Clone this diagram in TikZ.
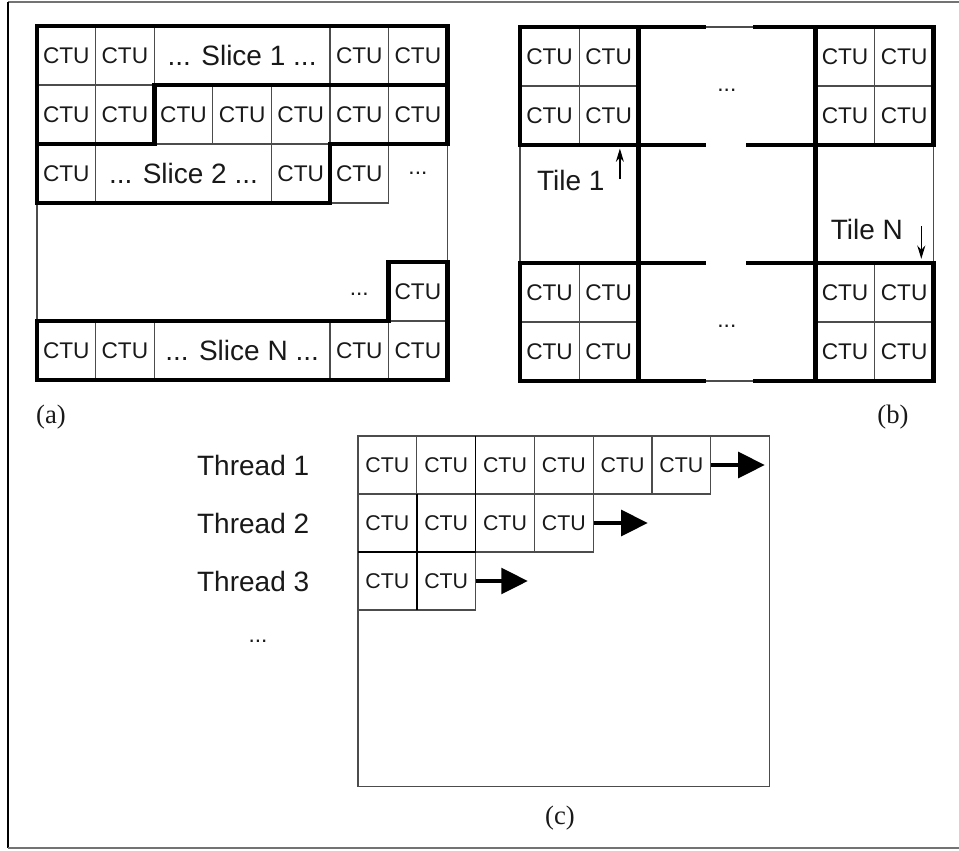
\documentclass[tikz,border=0pt]{standalone}
\usepackage{fontspec}
\setmainfont{Liberation Serif}
\setsansfont{Liberation Sans}
\usepackage{tikz}
\usetikzlibrary{positioning,arrows.meta}
\tikzstyle{ctu}=[rectangle, draw=black!70, line width=0.8pt, inner sep=0pt,
        text=black!90, font=\sffamily\fontsize{17}{17}\selectfont]
\tikzstyle{slicebox}=[ctu, font=\sffamily\fontsize{21}{21}\selectfont]
\tikzstyle{dotstext}=[inner sep=0pt, text=black!90, font=\sffamily\fontsize{17}{17}\selectfont]
\tikzstyle{bigtext}=[inner sep=0pt, text=black!90, font=\sffamily\fontsize{21}{21}\selectfont]
\tikzstyle{sublabel}=[inner sep=0pt, text=black!90, font=\rmfamily\fontsize{20}{20}\selectfont]
\tikzstyle{gridline}=[draw=black!70, line width=0.8pt]
\tikzstyle{thickline}=[line width=3.7pt, line cap=rect]
\tikzstyle{midline}=[line width=1.3pt]
\tikzstyle{thinarrow}=[-{Stealth[length=10pt,width=6pt]}, line width=1pt]
\tikzstyle{scanarrow}=[-{Triangle[length=20pt,width=19pt]}, line width=3.5pt]
\tikzstyle{frameline}=[line width=1.1pt]

\begin{document}
\begin{tikzpicture}[x=0.75pt, y=-0.75pt]
	\useasboundingbox (0,0) rectangle (959,850);

	% page frame
	\draw[frameline, black!55] (8,2) -- (959,2);
	\draw[frameline] (8,2) -- (8,848);
	\draw[frameline, black!55] (8,848) -- (959,848);

	% (a) slices
	\begin{scope}[shift={(37,26)}, x=43.95pt, y=-44.25pt,
		ctu/.append style={minimum width=43.95pt, minimum height=44.25pt}]
	\draw[gridline] (0,0) rectangle (7,6);
	\foreach \i in {0,1,5,6}
		\node[ctu] (aR1C\i) at (\i+.5,.5) {CTU};
	\node[slicebox, minimum width=131.85pt] (slice1) at (3.5,.5) {... Slice 1 ...};
	\foreach \i in {0,...,6}
		\node[ctu] (aR2C\i) at (\i+.5,1.5) {CTU};
	\foreach \i in {0,4,5}
		\node[ctu] (aR3C\i) at (\i+.5,2.5) {CTU};
	\node[slicebox, minimum width=131.85pt] (slice2) at (2.5,2.5) {... Slice 2 ...};
	\node[dotstext] (aDots1) at (6.5,2.5) {...};
	\node[ctu] (aR5C6) at (6.5,4.5) {CTU};
	\node[dotstext] (aDots2) at (5.5,4.55) {...};
	\foreach \i in {0,1,5,6}
		\node[ctu] (aR6C\i) at (\i+.5,5.5) {CTU};
	\node[slicebox, minimum width=131.85pt] (sliceN) at (3.5,5.5) {... Slice N ...};

	\draw[thickline] (0,0) -- (7,0) -- (7,1) -- (2,1) -- (2,2) -- (0,2) -- cycle;
	\draw[thickline] (0,2) -- (2,2) -- (2,1) -- (7,1) -- (7,2) -- (5,2) -- (5,3) -- (0,3) -- cycle;
	\draw[thickline] (7,4) -- (6,4) -- (6,5) -- (0,5) -- (0,6) -- (7,6) -- cycle;
	\end{scope}

	% (b) tiles
	\begin{scope}[shift={(520,27)}, x=44.325pt, y=-44.25pt,
		ctu/.append style={minimum width=44.325pt, minimum height=44.25pt}]
	\draw[gridline] (0,0) rectangle (7,6);
	\foreach \i in {0,1,5,6}
		\foreach \j in {0,1,4,5}
			\node[ctu] (bR\j C\i) at (\i+.5,\j+.5) {CTU};
	\node[dotstext] (bDots1) at (3.5,1.07) {...};
	\node[dotstext] (bDots2) at (3.5,5.07) {...};

	\foreach \y in {0,6} {
		\draw[thickline] (0,\y) -- (3.1,\y);
		\draw[thickline] (3.98,\y) -- (7,\y);
	}
	\foreach \y in {2,4} {
		\draw[thickline] (0,\y) -- (3.1,\y);
		\draw[thickline] (3.86,\y) -- (7,\y);
	}
	\foreach \x in {2,5}
		\draw[thickline] (\x,0) -- (\x,6);
	\foreach \x in {0,7} {
		\draw[thickline] (\x,0) -- (\x,2);
		\draw[thickline] (\x,4) -- (\x,6);
	}

	\node[bigtext] (tile1) at (0.86,2.6) {Tile 1};
	\coordinate (tile1Tail) at (1.69,2.58);
	\coordinate (tile1Tip) at (1.69,2.06);
	\draw[thinarrow] (tile1Tail) -- (tile1Tip);

	\node[bigtext] (tileN) at (5.87,3.44) {Tile N};
	\coordinate (tileNTail) at (6.79,3.38);
	\coordinate (tileNTip) at (6.79,3.93);
	\draw[thinarrow] (tileNTail) -- (tileNTip);
	\end{scope}

	% (c) wavefront threads
	\begin{scope}[shift={(358,436)}, x=44.1pt, y=-43.5pt,
		ctu/.append style={minimum width=44.1pt, minimum height=43.5pt,
			font=\sffamily\fontsize{16}{16}\selectfont}]
	\draw[gridline] (0,0) rectangle (7,6.05);
	\foreach \i in {0,...,5}
		\node[ctu] (cR1C\i) at (\i+.5,.5) {CTU};
	\foreach \i in {0,...,3}
		\node[ctu] (cR2C\i) at (\i+.5,1.5) {CTU};
	\foreach \i in {0,1}
		\node[ctu] (cR3C\i) at (\i+.5,2.5) {CTU};
	\draw[midline] (2,0) -- (2,2) (1,1) -- (1,3) (0,2) -- (2,2);

	\coordinate (scan1) at (6.92,.5);
	\coordinate (scan2) at (4.93,1.5);
	\coordinate (scan3) at (2.89,2.5);
	\draw[scanarrow] (cR1C5.east) -- (scan1);
	\draw[scanarrow] (cR2C3.east) -- (scan2);
	\draw[scanarrow] (cR3C1.east) -- (scan3);
	\end{scope}

	\node[bigtext, left=36pt of cR1C0] (thread1) {Thread 1};
	\node[bigtext, left=36pt of cR2C0] (thread2) {Thread 2};
	\node[bigtext, left=36pt of cR3C0] (thread3) {Thread 3};
	\node[dotstext] (threadDots) at (258,641) {...};

	\node[sublabel] (capA) at (51,417) {(a)};
	\node[sublabel] (capB) at (893,417) {(b)};
	\node[sublabel] (capC) at (560,818) {(c)};

\end{tikzpicture}
\end{document}
